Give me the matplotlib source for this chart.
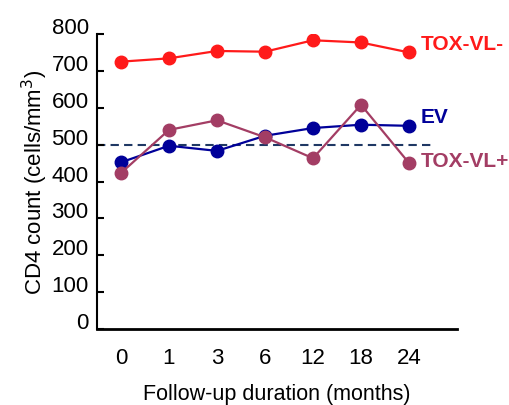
import matplotlib
matplotlib.use("Agg")
import matplotlib.pyplot as plt
from matplotlib.transforms import ScaledTranslation

plt.rcParams['font.family'] = ['Liberation Sans Narrow', 'Liberation Sans', 'DejaVu Sans']

months = ['0', '1', '3', '6', '12', '18', '24']
tox_vl_neg = [725, 734, 754, 752, 783, 777, 750]
ev = [452, 497, 483, 524, 545, 554, 551]
tox_vl_pos = [423, 540, 566, 520, 463, 608, 450]
reference_level = 500
y_ticks = [0, 100, 200, 300, 400, 500, 600, 700, 800]

series = [
    ('TOX-VL-', tox_vl_neg, '#FF1A1A'),
    ('EV', ev, '#000099'),
    ('TOX-VL+', tox_vl_pos, '#A33D64'),
]
label_y = {'TOX-VL-': 773, 'EV': 575, 'TOX-VL+': 457}

fig = plt.figure(figsize=(5.1, 4.06), dpi=100)
ax = fig.add_axes([97 / 510, 1 - 330 / 406, 360 / 510, 295 / 406])

x = list(range(len(months)))
ax.plot([-0.5, 6.5], [reference_level] * 2, ls=(0, (4, 2.5)), color='#1F3864', lw=1.5, zorder=1)

for name, vals, col in series:
    ax.plot(x, vals, color=col, lw=1.6, marker='o', ms=9, zorder=3)
    ax.text(6.24, label_y[name], name, color=col, fontsize=15, fontweight='bold',
            va='center', ha='left', clip_on=False)

ax.set_xlim(-0.5, 7.0)
ax.set_ylim(0, 800)
ax.set_xticks(x)
ax.set_xticklabels(months)
ax.set_yticks(y_ticks)
ax.tick_params(axis='x', length=0, pad=13, labelsize=16)
ax.tick_params(axis='y', direction='in', length=5, width=1.5, pad=6, labelsize=16)
for lab in ax.get_yticklabels():
    lab.set_transform(lab.get_transform() + ScaledTranslation(0, 0.09, fig.dpi_scale_trans))

for s in ['top', 'right']:
    ax.spines[s].set_visible(False)
ax.spines['left'].set_linewidth(1.5)
ax.spines['bottom'].set_linewidth(2)

ax.set_xlabel('Follow-up duration (months)', fontsize=15.5, labelpad=11)
ax.set_ylabel('CD4 count (cells/mm$^3$)', fontsize=16, labelpad=1)

fig.savefig('out.png', dpi=100)
